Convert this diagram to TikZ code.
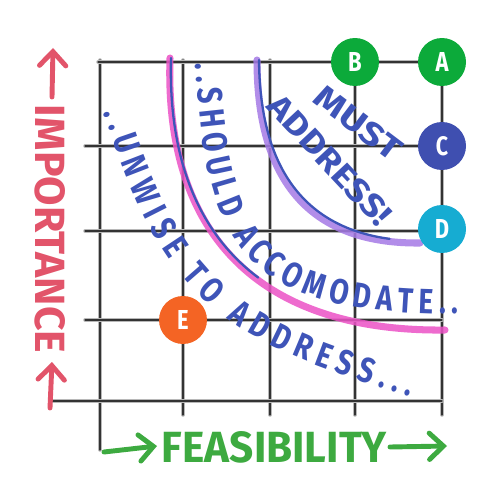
\documentclass[tikz,border=0pt]{standalone}
\usepackage{fontspec}
\newfontfamily\hand[FakeStretch=0.8]{Fira Sans}
\usetikzlibrary{decorations.text,arrows.meta}

\definecolor{inkblue}{HTML}{3E54B8}
\definecolor{inkred}{HTML}{E2546A}
\definecolor{inkgreen}{HTML}{3DAA40}
\definecolor{dotgreen}{HTML}{0CAA3A}
\definecolor{dotblue}{HTML}{3F4FB0}
\definecolor{dotcyan}{HTML}{16ACD2}
\definecolor{dotorange}{HTML}{F46424}
\definecolor{haloviolet}{HTML}{A57AE6}
\definecolor{halopink}{HTML}{EC52C6}
\definecolor{pencil}{HTML}{333333}

% one drawing unit
\newlength\pxu \setlength\pxu{0.02cm}
\newcommand\dotlabel[1]{\resizebox{!}{19\pxu}{\hand\bfseries #1}}
\newcommand\lettering[3]{\resizebox{#1\pxu}{#2\pxu}{\hand\bfseries #3}}

\begin{document}
\begin{tikzpicture}[x=0.02cm, y=-0.02cm,
  gridline/.style={draw=pencil, line width=0.75pt, line cap=round,
    preaction={draw=black!28, line width=2pt, line cap=round}},
  dot/.style={circle, minimum size=0.96cm, inner sep=0pt, text=white},
  handarrow/.style={line width=2.8pt, line cap=round,
    -{Straight Barb[length=8pt, width=15pt, line cap=round]}},
  halo/.style={line width=4pt, line cap=round, opacity=0.85},
  core/.style={draw=inkblue, line width=1.3pt, line cap=round},
  curvetext/.style={decorate, decoration={text along path,
    text color=inkblue, text align={fit to path}}},
]
\fill[white] (0,0) rectangle (500,500);
\useasboundingbox (0,0) rectangle (500,500);

% pencil grid
\draw[gridline] (100,60) -- (100,450);
\foreach \x in {183,270,355,442} \draw[gridline] (\x,60) -- (\x,415);
\draw[gridline] (98,62) -- (442,62);
\foreach \y in {146,231,320} \draw[gridline] (85,\y) -- (442,\y);
\draw[gridline] (50,401) -- (442,401);

% boundary curves
\draw[halo, draw=halopink] (170,58) .. controls (164,240) and (265,332) .. (445,330);
\draw[core, dash pattern=on 140pt off 1000pt] (171,58) .. controls (166,238) and (266,330) .. (445,328);
\draw[halo, draw=haloviolet] (257,60) .. controls (257,192) and (320,244) .. (420,243);
\draw[core, dash pattern=on 140pt off 1000pt] (259,60) .. controls (260,188) and (322,240) .. (420,241);

% zone labels
\node[text=inkblue, rotate=-37] (must) at (358,123) {\lettering{100}{23}{MUST}};
\node[text=inkblue, rotate=-47] (address) at (330,160) {\lettering{165}{23}{ADDRESS!}};
\path[curvetext, decoration={
    text={|\hand\bfseries\fontsize{20}{20}\selectfont|..SHOULD ACCOMODATE..}}]
  (196,64) .. controls (205,254) and (248,314) .. (458,314);
\path[curvetext, decoration={
    text={|\hand\bfseries\fontsize{20}{20}\selectfont|..UNWISE TO ADDRESS...}}]
  (104,112) .. controls (164,312) and (240,345) .. (410,396);

% axes
\node[text=inkred, rotate=-90] (importance) at (50,229) {\lettering{248}{30}{IMPORTANCE}};
\coordinate (impA0) at (52,97);  \coordinate (impA1) at (53,48);
\coordinate (impB0) at (50,408); \coordinate (impB1) at (52,362);
\draw[handarrow, inkred] (impA0) -- (impA1);
\draw[handarrow, inkred] (impB0) -- (impB1);

\node[text=inkgreen] (feasibility) at (274.5,447.5) {\lettering{225}{31}{FEASIBILITY}};
\coordinate (feaA0) at (104,452); \coordinate (feaA1) at (157,446);
\coordinate (feaB0) at (390,447); \coordinate (feaB1) at (447,446);
\draw[handarrow, inkgreen] (feaA0) -- (feaA1);
\draw[handarrow, inkgreen] (feaB0) -- (feaB1);

% items
\node[dot, fill=dotgreen]  (B) at (355,62)  {\dotlabel{B}};
\node[dot, fill=dotgreen]  (A) at (442,62)  {\dotlabel{A}};
\node[dot, fill=dotblue]   (C) at (442,146) {\dotlabel{C}};
\node[dot, fill=dotcyan]   (D) at (442,229) {\dotlabel{D}};
\node[dot, fill=dotorange] (E) at (183,320) {\dotlabel{E}};
\end{tikzpicture}
\end{document}
